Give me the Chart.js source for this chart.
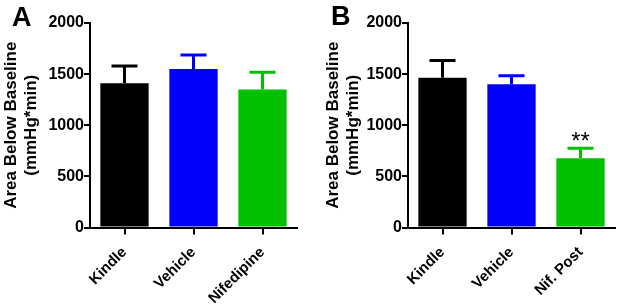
<!DOCTYPE html>
<html>
<head>
<meta charset="utf-8">
<script src="https://cdn.jsdelivr.net/npm/chart.js@4.4.0/dist/chart.umd.min.js"></script>
<style>
  body { margin: 0; background: #fff; }
  #wrap { position: relative; width: 617px; height: 306px; }
  canvas { position: absolute; top: 0; }
  .panel { position: absolute; font: bold 27px "Liberation Sans", Arial, sans-serif; line-height: 1; color: #000; }
</style>
</head>
<body>
<div id="wrap">
  <canvas id="chartA" width="308" height="306" style="left:0"></canvas>
  <canvas id="chartB" width="309" height="306" style="left:308px"></canvas>
  <div class="panel" style="left:12px; top:4px">A</div>
  <div class="panel" style="left:331px; top:3px">B</div>
</div>
<script>
// Datos
const categoriesA = ['Kindle', 'Vehicle', 'Nifedipine'];
const valuesA = [1410, 1550, 1350];
const errorsA = [170, 138, 168];

const categoriesB = ['Kindle', 'Vehicle', 'Nif. Post'];
const valuesB = [1465, 1400, 678];
const errorsB = [168, 85, 96];
const signifB = ['', '', '**'];

const yTicks = [0, 500, 1000, 1500, 2000];
const barColors = ['#000000', '#0000FA', '#00C000'];
const yTitle = ['Area Below Baseline', '(mmHg*min)'];

const FONT = '"Liberation Sans", Arial, sans-serif';

// barras de error (solo hacia arriba) y asteriscos
const errorBarPlugin = {
  id: 'errorBars',
  afterDatasetsDraw(chart) {
    const { ctx } = chart;
    const yScale = chart.scales.y;
    const ds = chart.data.datasets[0];
    const meta = chart.getDatasetMeta(0);
    ctx.save();
    meta.data.forEach((bar, i) => {
      const top = yScale.getPixelForValue(ds.data[i] + ds.errors[i]);
      ctx.strokeStyle = ds.backgroundColor[i];
      ctx.lineWidth = 3;
      ctx.beginPath();
      ctx.moveTo(bar.x, bar.y);
      ctx.lineTo(bar.x, top);
      ctx.moveTo(bar.x - 13, top);
      ctx.lineTo(bar.x + 13, top);
      ctx.stroke();
      const mark = ds.signif ? ds.signif[i] : '';
      if (mark) {
        ctx.fillStyle = '#000';
        ctx.font = '24px ' + FONT;
        ctx.textAlign = 'center';
        ctx.textBaseline = 'alphabetic';
        ctx.fillText(mark, bar.x, top + 1);
      }
    });
    ctx.restore();
  }
};

function crearGrafico(id, labels, values, errors, signif, axisWidth, titlePad, padRight) {
  return new Chart(document.getElementById(id), {
    type: 'bar',
    data: {
      labels: labels,
      datasets: [{
        data: values,
        errors: errors,
        signif: signif,
        backgroundColor: barColors,
        borderWidth: 0,
        barPercentage: 0.7,
        categoryPercentage: 1
      }]
    },
    options: {
      responsive: false,
      animation: false,
      layout: { padding: { top: 23, right: padRight, left: 0, bottom: 0 } },
      plugins: { legend: { display: false }, tooltip: { enabled: false } },
      scales: {
        x: {
          afterFit: (s) => { s.height = 78.5; },
          grid: { offset: false, drawOnChartArea: false, drawTicks: true, tickLength: 7, color: '#000', lineWidth: 2 },
          border: { display: true, color: '#000', width: 2 },
          ticks: {
            color: '#000',
            font: { family: FONT, size: 15, weight: 'bold' },
            minRotation: 45,
            maxRotation: 45,
            padding: 9
          }
        },
        y: {
          min: 0,
          max: 2000,
          afterFit: (s) => { s.width = axisWidth; },
          afterBuildTicks: (s) => { s.ticks = yTicks.map(v => ({ value: v })); },
          grid: { drawOnChartArea: false, drawTicks: true, tickLength: 6, color: '#000', lineWidth: 2 },
          border: { display: true, color: '#000', width: 2 },
          ticks: {
            color: '#000',
            font: { family: FONT, size: 16, weight: 'bold' },
            padding: 0,
            callback: (v) => String(v)
          },
          title: {
            display: true,
            text: yTitle,
            color: '#000',
            font: { family: FONT, size: 17, weight: 'bold', lineHeight: 1.2 },
            padding: { top: titlePad, bottom: 0 }
          }
        }
      }
    },
    plugins: [errorBarPlugin]
  });
}

crearGrafico('chartA', categoriesA, valuesA, errorsA, null, 90, 1, 11);
crearGrafico('chartB', categoriesB, valuesB, errorsB, signifB, 100, 15, 2);
</script>
</body>
</html>
